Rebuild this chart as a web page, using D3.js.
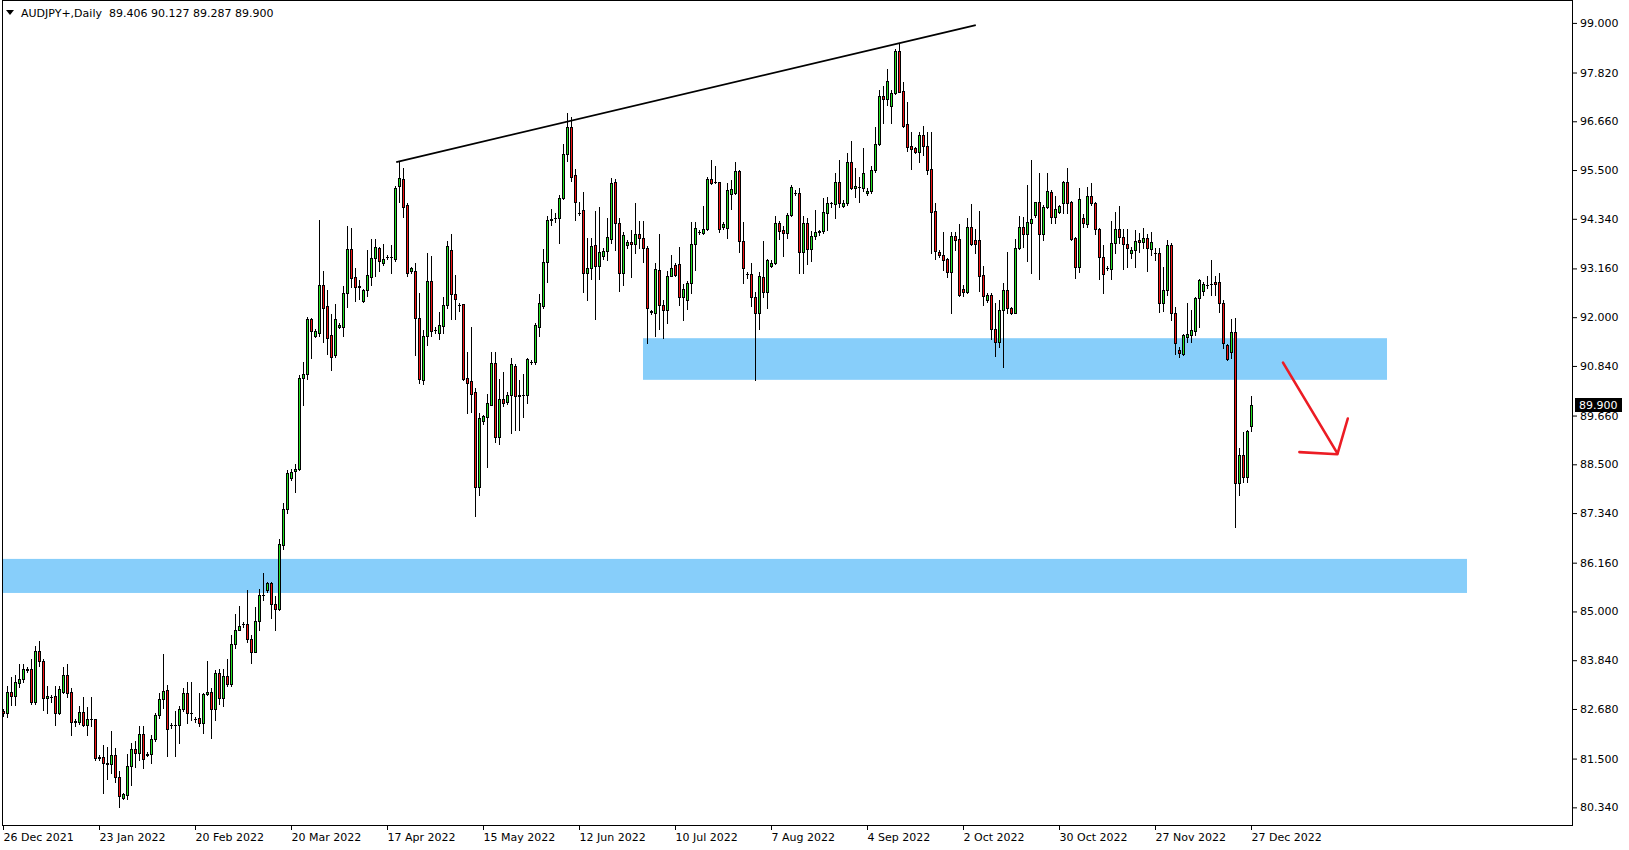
<!DOCTYPE html>
<html><head><meta charset="utf-8">
<script src="https://cdn.jsdelivr.net/npm/d3@7"></script>
<style>html,body{margin:0;padding:0;background:#fff;} svg{display:block;font-family:"DejaVu Sans",sans-serif;}</style>
</head><body>
<svg id="c" width="1629" height="850"></svg>
<script>
const symbolName = "AUDJPY+,Daily";
const openP = [
82.62,82.58,83.09,82.99,83.29,83.39,83.62,83.62,82.85,84.06,
83.82,82.93,82.97,82.99,82.59,83.09,83.50,83.08,82.39,82.38,
82.60,82.29,82.43,82.43,81.52,81.53,81.39,81.36,81.58,81.05,
80.57,80.64,81.32,81.72,81.63,82.08,81.58,81.60,81.96,82.53,
82.91,83.12,82.30,82.31,82.29,82.67,83.05,82.58,82.44,82.46,
82.35,83.03,83.08,82.69,83.53,82.93,83.46,83.28,84.22,84.57,
84.69,84.70,84.34,84.03,84.77,85.38,85.50,85.67,85.18,85.07,
86.58,87.43,88.18,88.33,88.38,90.55,90.64,91.96,91.56,91.62,
92.77,92.26,91.58,91.09,91.76,91.76,92.57,93.62,92.96,92.73,
92.39,92.65,92.95,93.41,93.65,93.28,93.43,93.42,93.38,95.11,
95.28,94.66,93.11,93.09,91.97,90.50,91.55,92.85,91.70,91.62,
91.80,92.30,93.60,92.55,92.28,92.31,90.55,90.48,90.22,87.97,
89.54,89.63,89.91,90.90,89.16,90.05,89.98,90.14,90.85,90.12,
90.14,90.14,90.93,90.94,91.77,92.27,93.32,94.30,94.37,94.35,
94.83,95.87,96.52,95.38,94.49,94.55,93.06,93.16,93.71,93.22,
93.45,93.58,93.87,95.21,94.23,93.04,93.72,93.80,93.73,93.99,
93.88,93.65,92.14,92.11,93.12,92.30,92.17,92.99,93.24,93.26,
92.49,92.40,92.82,93.73,94.03,94.01,94.09,95.28,95.22,95.21,
94.15,94.11,94.94,94.95,95.48,93.81,93.02,93.02,92.47,92.09,
92.95,92.61,93.22,93.28,94.23,94.07,94.01,94.43,94.96,94.96,
93.56,94.23,93.63,93.92,94.03,94.04,94.49,94.71,94.69,95.22,
94.65,94.71,95.70,95.07,95.09,95.07,94.96,95.01,95.49,96.13,
97.27,97.19,97.02,97.33,98.33,97.38,96.59,96.07,96.02,95.94,
96.33,96.08,95.52,94.53,93.55,93.49,93.38,93.08,93.93,93.85,
92.66,92.61,94.14,93.83,93.83,93.00,92.42,92.53,91.71,91.42,
92.17,92.65,92.21,92.11,93.64,94.14,93.97,94.23,94.43,94.73,
93.97,94.61,94.97,94.38,94.51,94.72,95.21,94.73,93.88,93.20,
94.35,94.21,94.89,94.71,94.09,93.42,93.18,93.14,93.76,94.09,
93.91,93.73,93.52,93.60,93.84,93.78,93.88,93.61,93.52,93.52,
92.33,92.65,93.72,92.09,91.23,91.12,91.54,91.58,91.68,92.45,
92.63,92.77,92.79,92.83,92.83,92.33,91.34,91.16,91.65,88.05,
88.72,88.21,89.406];
const highP = [
82.67,83.23,83.43,83.50,83.75,83.75,83.69,83.86,84.18,84.30,
83.88,83.23,83.02,83.23,83.23,83.69,83.75,83.17,82.43,82.74,
82.96,82.73,82.96,82.45,81.58,81.82,81.78,82.15,81.74,81.20,
80.69,81.62,81.86,81.92,82.28,82.28,81.65,82.06,82.59,83.05,
83.98,83.26,82.34,82.62,82.75,83.17,83.32,83.32,82.50,83.05,
83.05,83.82,83.17,83.61,83.64,83.64,83.86,84.44,84.94,85.13,
84.74,85.51,84.44,85.10,85.53,85.91,85.69,85.69,85.36,86.72,
87.57,88.37,88.38,88.51,90.63,90.93,92.01,91.97,91.73,94.31,
93.10,92.65,92.07,92.31,91.87,92.74,94.17,94.12,93.18,92.89,
92.66,93.60,93.85,93.85,93.68,93.73,93.48,93.72,95.11,95.69,
95.56,94.71,93.19,93.28,92.57,91.69,93.52,93.46,91.77,92.12,
92.49,93.82,93.97,93.00,92.33,92.31,91.16,91.77,90.32,89.71,
89.67,90.17,91.18,91.16,90.52,90.69,90.23,91.02,90.89,90.50,
90.64,91.02,90.98,91.85,92.54,93.61,94.41,94.57,94.49,94.91,
96.11,96.86,96.75,95.52,94.73,94.97,93.88,93.88,94.53,94.61,
93.64,94.37,95.30,95.28,94.35,94.03,93.84,94.07,94.71,94.29,
94.29,93.69,92.17,93.30,93.97,92.41,93.10,93.48,93.28,93.68,
92.79,92.85,94.26,94.26,94.07,94.65,95.34,95.74,95.60,95.22,
94.27,95.18,95.26,95.70,95.50,94.27,93.08,93.30,92.61,93.08,
93.82,93.38,93.35,94.41,94.29,94.18,94.47,95.14,95.03,95.07,
94.41,94.37,94.06,94.55,94.07,94.83,94.85,94.75,95.42,95.75,
94.79,95.91,96.19,95.56,95.34,96.02,95.07,95.60,96.52,97.40,
97.50,97.90,97.40,98.38,98.51,97.60,97.13,96.40,96.06,96.40,
96.55,96.40,96.40,94.71,93.60,94.03,93.40,94.03,94.03,94.22,
92.77,94.35,94.69,94.09,94.53,93.22,92.57,92.57,92.33,92.41,
92.81,93.56,92.25,93.85,94.41,94.39,95.14,95.74,94.75,95.42,
94.67,95.42,95.03,94.88,94.67,95.23,95.56,94.76,93.90,95.07,
94.46,95.10,95.18,94.75,94.11,93.72,93.22,94.29,94.51,94.64,
94.09,94.09,93.68,94.07,94.01,94.11,93.99,94.03,93.65,93.64,
93.19,93.84,93.77,92.25,91.30,91.60,92.34,92.17,92.49,92.92,
92.84,92.98,93.36,92.98,93.04,92.41,91.36,91.95,91.99,88.88,
89.28,89.31,90.127];
const lowP = [
82.52,82.50,82.77,82.77,83.20,83.33,83.55,82.80,82.81,83.70,
82.66,82.59,82.85,82.31,82.56,83.05,82.97,82.07,82.28,82.32,
82.28,82.06,82.28,81.47,81.47,80.69,81.02,81.15,80.94,80.36,
80.53,80.53,80.87,81.31,81.47,81.28,81.55,81.40,81.92,82.46,
82.71,81.55,82.22,81.55,81.88,82.62,82.34,82.42,82.38,82.28,
82.10,83.01,82.00,82.42,82.80,82.74,83.23,83.23,84.12,84.56,
84.64,84.28,83.78,84.03,84.56,85.27,85.47,84.85,84.57,85.03,
86.48,87.35,88.13,87.83,88.36,89.91,90.52,91.03,91.52,91.56,
91.42,91.12,90.74,91.05,91.74,91.56,92.25,92.71,92.39,92.43,
92.37,92.51,92.77,92.98,93.11,93.23,93.39,93.06,93.34,94.75,
94.39,92.98,93.04,91.11,90.44,90.41,91.33,91.55,91.63,91.49,
91.62,92.22,91.95,91.96,92.15,90.51,89.73,89.75,87.28,87.77,
89.45,88.44,89.91,89.04,88.98,89.89,89.93,89.24,89.32,89.32,
89.63,89.97,90.88,90.88,91.55,92.23,92.83,94.19,94.26,93.76,
94.80,95.71,95.25,94.30,94.43,92.61,92.42,92.92,91.95,92.92,
93.38,93.36,93.77,93.60,92.63,92.77,93.64,92.96,93.52,93.64,
93.32,91.39,92.08,91.55,91.73,91.51,91.87,92.98,92.98,92.29,
91.93,92.19,92.58,93.12,93.98,93.97,94.07,95.17,95.18,94.03,
94.09,93.88,94.57,94.93,93.56,92.82,92.94,92.27,90.51,91.71,
92.49,92.23,93.19,93.27,93.86,93.46,93.88,94.41,94.91,93.06,
93.06,93.27,93.34,93.86,93.95,94.00,94.07,94.63,94.35,94.61,
94.63,94.67,95.04,94.87,94.75,95.00,94.91,94.96,95.46,96.10,
96.63,97.05,96.63,97.31,97.35,96.53,95.95,95.53,95.90,95.70,
95.86,95.41,93.52,93.38,93.44,93.12,92.95,92.11,93.60,92.50,
92.50,92.57,93.72,93.52,92.63,92.29,92.37,91.47,91.08,91.28,
90.82,92.09,92.08,92.09,93.62,93.68,93.34,93.06,94.39,92.90,
93.84,94.59,94.23,94.23,94.48,94.47,94.47,93.84,92.94,93.08,
94.15,94.15,94.67,93.99,92.90,92.58,93.12,92.90,93.53,93.76,
93.14,93.20,93.40,93.19,93.56,93.64,93.11,93.48,93.36,92.13,
92.15,92.53,91.93,91.12,91.05,91.10,91.42,91.42,91.58,91.77,
92.53,92.69,92.53,92.53,92.13,91.26,90.98,91.02,87.02,87.77,
88.09,88.09,89.287];
const closeP = [
82.58,83.09,82.99,83.31,83.39,83.62,83.60,82.85,84.06,83.81,
82.93,82.98,82.96,82.59,83.15,83.50,83.07,82.38,82.37,82.60,
82.29,82.43,82.44,81.52,81.53,81.39,81.36,81.58,81.05,80.62,
80.65,81.32,81.72,81.63,82.08,81.48,81.62,81.96,82.53,82.91,
83.10,82.21,82.31,82.30,82.67,83.05,82.58,82.59,82.43,82.35,
83.03,83.08,82.69,83.53,82.93,83.46,83.28,84.22,84.57,84.65,
84.70,84.34,84.03,84.77,85.38,85.40,85.67,85.18,85.07,86.60,
87.43,88.29,88.31,88.38,90.55,90.64,91.96,91.66,91.67,92.77,
92.23,91.50,91.05,91.96,91.81,92.57,93.62,92.93,92.71,92.72,
92.65,93.00,93.41,93.66,93.33,93.38,93.44,93.43,95.07,95.30,
94.63,93.04,93.16,91.99,90.54,91.55,92.85,91.66,91.70,91.81,
92.30,93.69,92.55,92.43,92.29,90.54,90.44,90.17,87.97,89.60,
89.65,89.95,90.90,89.16,90.05,89.97,90.14,90.88,90.12,90.16,
90.14,91.00,90.93,91.81,92.33,93.32,94.30,94.34,94.37,94.84,
95.87,96.52,95.34,94.75,94.49,93.06,93.16,93.69,93.22,93.56,
93.57,93.90,95.18,94.23,93.04,93.95,93.80,93.73,93.97,93.88,
93.65,92.23,92.13,93.14,92.30,92.17,92.99,93.18,93.00,92.49,
92.66,92.82,93.73,94.11,94.03,94.09,95.28,95.18,95.21,94.09,
94.21,95.03,95.04,95.48,93.82,93.16,93.02,92.47,92.09,92.98,
92.61,93.36,93.30,94.23,94.06,94.01,94.43,95.09,94.96,93.56,
94.23,93.63,93.92,94.03,94.04,94.51,94.71,94.72,95.22,94.71,
94.71,95.70,95.07,95.12,95.09,95.44,95.01,95.49,96.13,97.27,
97.19,97.63,97.33,98.33,97.36,96.55,96.06,96.01,95.94,96.33,
96.08,95.50,94.51,93.58,93.48,93.36,93.08,93.93,93.84,92.53,
92.61,94.14,93.73,93.73,92.99,92.50,92.53,91.71,91.42,92.17,
92.65,92.21,92.09,93.64,94.14,93.97,94.26,94.33,94.73,93.97,
94.61,95.00,94.38,94.57,94.65,95.21,94.72,93.86,93.20,94.80,
94.25,94.89,94.71,94.09,93.42,93.02,93.17,93.76,94.09,93.91,
93.73,93.64,93.60,93.82,93.78,93.88,93.65,93.78,93.52,92.33,
92.65,93.72,92.09,91.38,91.14,91.58,91.60,91.69,92.45,92.88,
92.78,92.77,92.79,92.79,92.33,91.39,91.00,91.65,88.05,88.72,
88.21,89.29,89.900];

const dateTickIndex = [0,24,48,72,96,120,144,168,192,216,240,264,288,312];
const dateTickLabels = ["26 Dec 2021","23 Jan 2022","20 Feb 2022","20 Mar 2022","17 Apr 2022","15 May 2022","12 Jun 2022","10 Jul 2022","7 Aug 2022","4 Sep 2022","2 Oct 2022","30 Oct 2022","27 Nov 2022","27 Dec 2022"];
const priceTicks = [99.000,97.820,96.660,95.500,94.340,93.160,92.000,90.840,89.660,88.500,87.340,86.160,85.000,83.840,82.680,81.500,80.340];

// drawn objects (bar index / price)
const zoneStart = [160, -0.1];
const zoneEnd = [346, 366];
const zoneHigh = [91.50, 86.25];
const zoneLow = [90.51, 85.44];
const trendIdx = [98.3, 243.2];
const trendPrice = [95.69, 98.95];
const arrowIdx = [320, 333.6];
const arrowPrice = [90.92, 88.76];
const arrowHeadIdx = [324.1, 333.6, 336.2];
const arrowHeadPrice = [88.79, 88.74, 89.59];

const svg = d3.select("#c");
const n = openP.length;
const plotL = 2, plotR = 1572, plotT = 0, plotB = 825;
const x = d3.scaleLinear().domain([0, 312]).range([3, 1251]);
const y = d3.scaleLinear().domain([79.92, 99.545]).range([plotB, plotT]);
const bull = "#22e022", bear = "#f21414";

svg.append("rect").attr("width",1629).attr("height",850).attr("fill","#fff");

// zones
const zg = svg.append("g");
zg.selectAll("rect").data(d3.range(zoneStart.length)).join("rect")
  .attr("x", i => x(zoneStart[i]))
  .attr("y", i => y(zoneHigh[i]))
  .attr("width", i => x(zoneEnd[i]) - x(zoneStart[i]))
  .attr("height", i => y(zoneLow[i]) - y(zoneHigh[i]))
  .attr("fill", "#87cefa");

// candles
const cg = svg.append("g").attr("shape-rendering","crispEdges");
const idx = d3.range(n);
cg.selectAll("line.w").data(idx).join("line").attr("class","w")
  .attr("x1", i => Math.round(x(i)) + 0.5).attr("x2", i => Math.round(x(i)) + 0.5)
  .attr("y1", i => Math.round(y(highP[i])))
  .attr("y2", i => Math.round(y(lowP[i])) + 1)
  .attr("stroke", "#000").attr("stroke-width", 1);
const bodyTop = i => Math.round(y(Math.max(openP[i], closeP[i])));
const bodyBot = i => Math.round(y(Math.min(openP[i], closeP[i])));
const flat = idx.filter(i => bodyBot(i) - bodyTop(i) < 1);
const solid = idx.filter(i => bodyBot(i) - bodyTop(i) >= 1);
cg.selectAll("rect.b").data(solid).join("rect").attr("class","b")
  .attr("x", i => Math.round(x(i)) - 0.5)
  .attr("y", i => bodyTop(i) + 0.5)
  .attr("width", 2)
  .attr("height", i => bodyBot(i) - bodyTop(i))
  .attr("fill", i => closeP[i] >= openP[i] ? bull : bear)
  .attr("stroke", "#000").attr("stroke-width", 1);
cg.selectAll("line.d").data(flat).join("line").attr("class","d")
  .attr("x1", i => Math.round(x(i)) - 1).attr("x2", i => Math.round(x(i)) + 2)
  .attr("y1", i => bodyTop(i) + 0.5).attr("y2", i => bodyTop(i) + 0.5)
  .attr("stroke", "#000").attr("stroke-width", 1);

// trendline
svg.append("line")
  .attr("x1", x(trendIdx[0])).attr("y1", y(trendPrice[0]))
  .attr("x2", x(trendIdx[1])).attr("y2", y(trendPrice[1]))
  .attr("stroke", "#000").attr("stroke-width", 1.8);

// red arrow
const ag = svg.append("g").attr("fill","none").attr("stroke","#ec1c24").attr("stroke-width",2.6).attr("stroke-linecap","round").attr("stroke-linejoin","round");
ag.append("path").attr("d", d3.line()(arrowIdx.map((v,k)=>[x(v), y(arrowPrice[k])])));
ag.append("path").attr("d", d3.line()(arrowHeadIdx.map((v,k)=>[x(v), y(arrowHeadPrice[k])])));

// frame
svg.append("path")
  .attr("d", `M${plotL+0.5},${plotT+0.5}H${plotR+0.5}V${plotB+0.5}H${plotL+0.5}Z`)
  .attr("fill","none").attr("stroke","#000").attr("stroke-width",1).attr("shape-rendering","crispEdges");

// right axis
const yAxis = d3.axisRight(y).tickValues(priceTicks).tickFormat(d3.format(".3f")).tickSizeInner(4).tickSizeOuter(0).tickPadding(3);
const ya = svg.append("g").attr("transform", `translate(${plotR+1},0)`).call(yAxis);
ya.select(".domain").remove();
ya.selectAll("text").attr("font-size", 11).attr("font-family", "DejaVu Sans, sans-serif").attr("fill", "#000");
ya.selectAll("line").attr("stroke", "#000");

// bottom axis
const xAxis = d3.axisBottom(x).tickValues(dateTickIndex).tickFormat((d, k) => dateTickLabels[k]).tickSizeInner(4).tickSizeOuter(0).tickPadding(3);
const xa = svg.append("g").attr("transform", `translate(0,${plotB+1})`).call(xAxis);
xa.select(".domain").remove();
xa.selectAll("text").attr("font-size", 11).attr("font-family", "DejaVu Sans, sans-serif").attr("fill", "#000").attr("text-anchor", "start").attr("x", 0);
xa.selectAll("line").attr("stroke", "#000");

// last price marker
const last = closeP[n - 1];
const ly = Math.round(y(last));
svg.append("rect").attr("x", plotR + 3).attr("y", ly - 7).attr("width", 47).attr("height", 14).attr("fill", "#000");
svg.append("text").attr("x", plotR + 7).attr("y", ly + 4).attr("font-size", 11).attr("fill", "#fff").text(d3.format(".3f")(last));

// header
svg.append("path").attr("d", "M6,10L14,10L10,15Z").attr("fill", "#000");
svg.append("text").attr("x", 21).attr("y", 17).attr("font-size", 11).attr("fill", "#000").style("white-space", "pre")
  .text(`${symbolName}  ${[openP[n-1], highP[n-1], lowP[n-1], closeP[n-1]].map(d3.format(".3f")).join(" ")}`);
</script>
</body></html>
